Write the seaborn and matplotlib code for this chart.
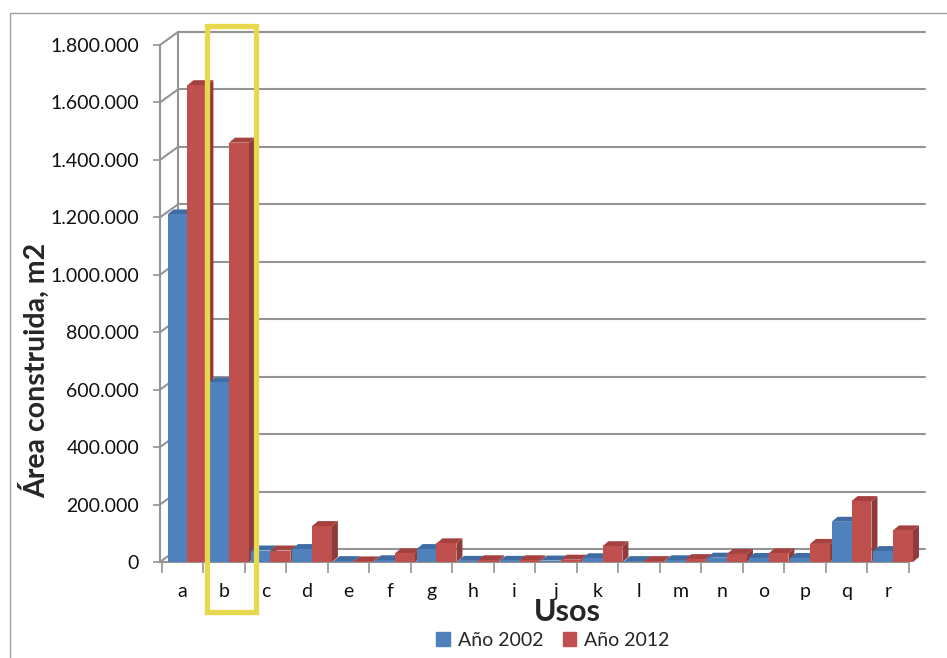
import numpy as np
import pandas as pd
import matplotlib
matplotlib.use('Agg')
import matplotlib.pyplot as plt
import matplotlib.transforms as mtransforms
from matplotlib.patches import Polygon, Rectangle
import seaborn as sns

# Data
usos = list('abcdefghijklmnopqr')
area_2002 = [1210000, 625000, 40000, 45000, 3000, 6000, 45000, 4000, 4000, 5000,
             13000, 3000, 6000, 15000, 14000, 14000, 140000, 38000]
area_2012 = [1660000, 1460000, 40000, 125000, 2000, 30000, 65000, 6000, 6000, 8000,
             55000, 3000, 10000, 28000, 30000, 63000, 212000, 110000]
series = ['Año 2002', 'Año 2012']
colors = {'Año 2002': '#4F81BD', 'Año 2012': '#C0504D'}
side_colors = {'Año 2002': '#3A6394', 'Año 2012': '#8E3B39'}
top_colors = {'Año 2002': '#3F6DA3', 'Año 2012': '#A5423F'}
yticks = [0, 200000, 400000, 600000, 800000, 1000000, 1200000, 1400000, 1600000, 1800000]
highlight = 'b'

df = pd.DataFrame({
    'Usos': usos * 2,
    'Area': area_2002 + area_2012,
    'Serie': [series[0]] * len(usos) + [series[1]] * len(usos),
})

sns.set_style('white')
plt.rcParams['font.family'] = ['Lato', 'DejaVu Sans']

W, H = 947, 658
fig = plt.figure(figsize=(W / 100, H / 100), dpi=100)
ax = fig.add_axes([160 / W, (H - 562) / H, (925 - 160) / W, (562 - 30) / H])

sns.barplot(data=df, x='Usos', y='Area', hue='Serie', palette=colors,
            width=0.96, saturation=1, ax=ax, legend=False, edgecolor='none')

px_x = 1 / 41.5          # category units per pixel
px_y = 1800000 / 517     # value units per pixel
ax.set_xlim(-0.542, 17.89)
ax.set_ylim(0, 532 * px_y)

# fake 3D depth on the bars
ddx, ddy = 6 * px_x, 5 * px_y
bars = sorted(ax.patches, key=lambda p: p.get_x())
for k, p in enumerate(bars):
    serie = series[0] if p.get_facecolor()[2] > 0.6 else series[1]
    p.set_x(p.get_x() + 0.12)
    x, w, h = p.get_x(), p.get_width(), p.get_height()
    z = 3 + k * 0.01
    p.set_zorder(z)
    side = Polygon([(x + w, 0), (x + w, h), (x + w + ddx, h + ddy), (x + w + ddx, ddy)],
                   closed=True, facecolor=side_colors[serie], edgecolor='none', zorder=z - 0.005)
    top = Polygon([(x, h), (x + w, h), (x + w + ddx, h + ddy), (x + ddx, h + ddy)],
                  closed=True, facecolor=top_colors[serie], edgecolor='none', zorder=z - 0.005)
    ax.add_patch(side)
    ax.add_patch(top)

# back wall gridlines and floor
back_dx, back_dy = 18 * px_x, 13 * px_y
x_front = -0.542
x_back = x_front + back_dx
x_end = 17.89
grid_kw = dict(color='#949494', lw=1.5, zorder=1, clip_on=False)
for v in yticks:
    ax.plot([x_front, x_back], [v, v + back_dy], **grid_kw)
    ax.plot([x_back, x_end], [v + back_dy, v + back_dy], **grid_kw)
ax.plot([x_back, x_back], [back_dy, yticks[-1] + back_dy], **grid_kw)
floor_end = 17.46
ax.plot([floor_end, floor_end + 8 * px_x], [0, 10 * px_y], color='#949494', lw=1.5, zorder=2, clip_on=False)

# axes styling
for s in ['top', 'right']:
    ax.spines[s].set_visible(False)
ax.spines['left'].set_bounds(0, yticks[-1])
ax.spines['bottom'].set_bounds(x_front, floor_end)
for s in ['left', 'bottom']:
    ax.spines[s].set_color('#949494')
    ax.spines[s].set_linewidth(1.5)

ax.set_yticks(yticks)
ax.set_yticklabels(['{:,.0f}'.format(v).replace(',', '.') for v in yticks])
ax.tick_params(axis='y', direction='out', length=5, width=1.2, color='#949494',
               pad=10, labelsize=14, labelcolor='#111111', left=True)
ax.set_xticks(range(len(usos)))
ax.set_xticklabels(usos)
ax.set_xticks(list(np.arange(len(usos)) + 0.5) + [-0.5], minor=True)
ax.tick_params(axis='x', which='major', length=0, pad=15, labelsize=14, labelcolor='#111111')
ax.tick_params(axis='x', which='minor', direction='out', length=8, width=1.2,
               color='#949494', bottom=True)
ax.set_xlabel('')
ax.set_ylabel('')

fig.text(567 / W, 1 - 612 / H, 'Usos', ha='center', va='center',
         fontsize=22, fontweight='bold')
fig.text(34 / W, 1 - 370 / H, 'Área construida, m2', ha='center', va='center',
         rotation=90, fontsize=20.5, fontweight='bold')

handles = [Rectangle((0, 0), 1, 1, color=colors[s]) for s in series]
fig.legend(handles, series, loc='center', bbox_to_anchor=(553 / W, 1 - 640 / H),
           ncol=2, frameon=False, fontsize=14, handlelength=0.7, handleheight=0.7,
           handletextpad=0.4, columnspacing=1.0)

# yellow highlight box around the category
i = usos.index(highlight)
trans = mtransforms.blended_transform_factory(ax.transData, fig.transFigure)
box = Rectangle((i - 0.42, 1 - 612 / H), 1.18, (612 - 26) / H, transform=trans,
                fill=False, edgecolor='#E8D84C', lw=3.8, clip_on=False, zorder=10)
ax.add_artist(box)

# chart area border
fig.add_artist(plt.Line2D([10 / W, 10 / W], [0, 1 - 13 / H], transform=fig.transFigure,
                          color='#a0a0a0', lw=1))
fig.add_artist(plt.Line2D([10 / W, 1], [1 - 13 / H, 1 - 13 / H], transform=fig.transFigure,
                          color='#a0a0a0', lw=1))

fig.savefig('out.png', dpi=100)
